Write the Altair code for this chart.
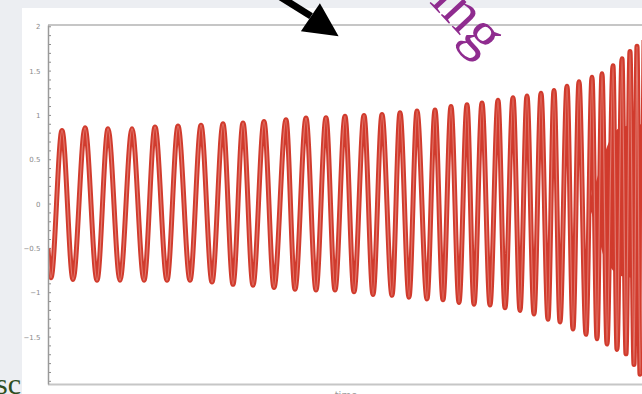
import altair as alt
import pandas as pd

# Chirp waveform: times and strain values of successive crests and troughs
peak_t = [14, 37, 60, 84, 107, 130, 153, 175, 195, 216, 238, 258, 278, 297, 316,
          334, 352, 369, 387, 403, 419, 434, 450, 465, 479, 493, 506, 519, 531,
          544, 554, 565, 574, 582, 589, 596]
peak_h = [0.83, 0.86, 0.85, 0.85, 0.87, 0.88, 0.89, 0.905, 0.915, 0.93, 0.95, 0.97,
          0.975, 0.99, 1.0, 1.01, 1.03, 1.05, 1.06, 1.10, 1.12, 1.14, 1.17, 1.20,
          1.22, 1.25, 1.28, 1.33, 1.38, 1.43, 1.47, 1.56, 1.64, 1.72, 1.78, 1.85]
trough_t = [3, 25, 49, 72, 96, 119, 142, 164, 185, 205, 226, 247, 268, 287, 306,
            325, 344, 361, 379, 395, 411, 426, 442, 457, 472, 486, 500, 512, 525,
            538, 549, 559, 569, 578, 586, 592]
trough_h = [-0.83, -0.85, -0.86, -0.86, -0.86, -0.86, -0.86, -0.88, -0.905, -0.915,
            -0.94, -0.96, -0.97, -0.97, -0.99, -1.02, -1.03, -1.05, -1.07, -1.08,
            -1.11, -1.13, -1.14, -1.17, -1.20, -1.24, -1.30, -1.33, -1.41, -1.47,
            -1.52, -1.58, -1.64, -1.69, -1.81, -1.92]
start_t = [0]
start_h = [-0.5]

# Densely packed late cycles near merger, drawn as a filled band
band_t = [540, 548, 556, 563, 570, 578, 594]
band_hi = [0.0, 0.25, 0.55, 0.75, 0.85, 0.88, 0.9]
band_lo = [0.0, -0.25, -0.6, -0.72, -0.8, -0.82, -0.85]

# Axis ticks
major_ticks = [-1.5, -1.0, -0.5, 0.0, 0.5, 1.0, 1.5, 2.0]
minor_ticks = [round(-2.0 + 0.1 * i, 1) for i in range(41)]

# Arrow annotation (data coordinates)
arrow_t = [222, 263]
arrow_h = [2.41, 2.12]
head_t = [276.5]
head_h = [2.0]

X_DOMAIN = [0, 594]
Y_DOMAIN = [-2.03, 2.02]

wave = pd.DataFrame({
    "t": start_t + peak_t + trough_t,
    "h": start_h + peak_h + trough_h,
}).sort_values("t").reset_index(drop=True)
band = pd.DataFrame({"t": band_t, "hi": band_hi, "lo": band_lo})
ticks = pd.DataFrame({"v": minor_ticks})
arrow = pd.DataFrame({"t": arrow_t, "h": arrow_h})
head = pd.DataFrame({"t": head_t, "h": head_h})

xs = alt.Scale(domain=X_DOMAIN, nice=False, zero=False)
ys = alt.Scale(domain=Y_DOMAIN, nice=False, zero=False)

RED = "#d13b2d"
one = pd.DataFrame({"a": [0]})

panel = alt.Chart(one).mark_rect(color="white").encode(
    x=alt.value(-26), x2=alt.value(600), y=alt.value(-17), y2=alt.value(380)
)
top_line = alt.Chart(one).mark_rule(color="#c6c6c6", strokeWidth=2).encode(
    x=alt.value(0), x2=alt.value(600), y=alt.value(0)
)
bottom_line = alt.Chart(one).mark_rule(color="#c6c6c6", strokeWidth=2).encode(
    x=alt.value(0), x2=alt.value(600), y=alt.value(359.5)
)

tick_marks = alt.Chart(ticks).mark_rule(color="#8c8c8c", strokeWidth=1).encode(
    y=alt.Y("v:Q", scale=ys,
            axis=alt.Axis(values=major_ticks, title=None, grid=False, ticks=False,
                          format="~g", labelFontSize=7, labelColor="#8a8a8a",
                          labelPadding=8, labelFont="DejaVu Sans",
                          domainColor="#9a9a9a", domainWidth=1.5, zindex=2)),
    x=alt.value(0),
    x2=alt.value(3),
)

band_layer = alt.Chart(band).mark_area(color=RED, interpolate="monotone", clip=True).encode(
    x=alt.X("t:Q", scale=xs, axis=None),
    y=alt.Y("lo:Q", scale=ys),
    y2="hi:Q",
)
wave_layer = alt.Chart(wave).mark_line(color=RED, strokeWidth=5, interpolate="monotone",
                                       clip=True).encode(
    x=alt.X("t:Q", scale=xs, axis=None),
    y=alt.Y("h:Q", scale=ys),
)
wave_core = alt.Chart(wave).mark_line(color="#e68a80", strokeWidth=1.2, opacity=0.8,
                                      interpolate="monotone", clip=True).encode(
    x=alt.X("t:Q", scale=xs, axis=None),
    y=alt.Y("h:Q", scale=ys),
)

arrow_shaft = alt.Chart(arrow).mark_line(color="black", strokeWidth=7, strokeCap="butt").encode(
    x=alt.X("t:Q", scale=xs, axis=None),
    y=alt.Y("h:Q", scale=ys),
)
arrow_head = alt.Chart(head).mark_point(shape="M-1,-1L1,0L-1,1Z", filled=True, color="black",
                                        opacity=1, size=1156, angle=34).encode(
    x=alt.X("t:Q", scale=xs, axis=None),
    y=alt.Y("h:Q", scale=ys),
)

label = alt.Chart(one).mark_text(
    text="chirping", font="Liberation Serif", fontSize=60, color="#8f2c8f",
    align="right", baseline="alphabetic", angle=47
).encode(x=alt.value(433), y=alt.value(33))

side_text = alt.Chart(one).mark_text(
    text="sc", font="Liberation Serif", fontSize=30, color="#2e4d1e",
    align="left", baseline="alphabetic"
).encode(x=alt.value(-52), y=alt.value(369))

x_title = alt.Chart(one).mark_text(
    text="time", font="DejaVu Sans", fontSize=10, color="#9a9a9a",
    align="center", baseline="top"
).encode(x=alt.value(298), y=alt.value(366))

chart = alt.layer(
    panel, top_line, bottom_line, tick_marks, band_layer, wave_layer, wave_core,
    arrow_shaft, arrow_head, label, side_text, x_title
).properties(
    width=594, height=359,
    autosize=alt.AutoSizeParams(type="none"),
    padding={"left": 48, "top": 25, "right": 0, "bottom": 10},
    background="#eceef2",
).configure_view(strokeWidth=0)

chart.save("out.html", embed_options={"renderer": "svg", "actions": False})
